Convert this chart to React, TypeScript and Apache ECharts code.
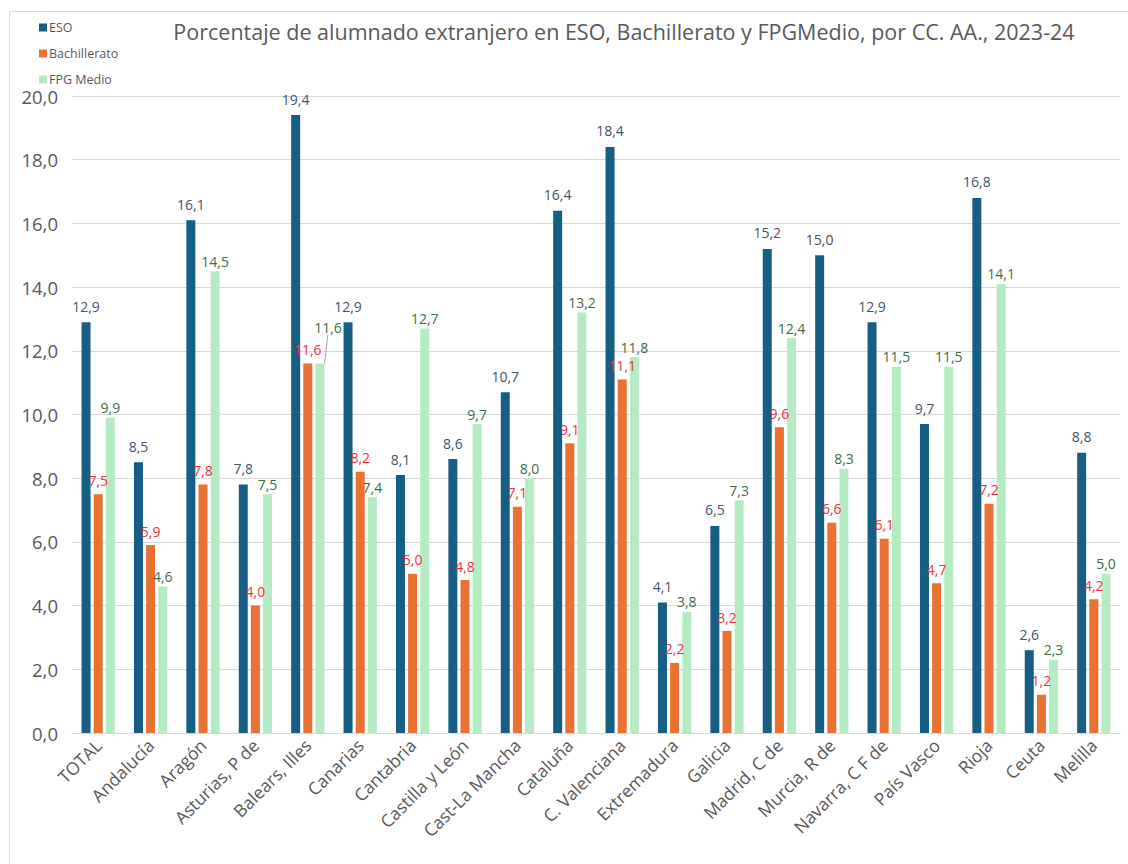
import React, { useEffect, useRef } from "react";
import * as echarts from "echarts";

const categories = [
  "TOTAL", "Andalucía", "Aragón", "Asturias, P de", "Balears, Illes", "Canarias",
  "Cantabria", "Castilla y León", "Cast-La Mancha", "Cataluña", "C. Valenciana",
  "Extremadura", "Galicia", "Madrid, C de", "Murcia, R de", "Navarra, C F de",
  "País Vasco", "Rioja", "Ceuta", "Melilla",
];
const esoValues = [12.9, 8.5, 16.1, 7.8, 19.4, 12.9, 8.1, 8.6, 10.7, 16.4, 18.4, 4.1, 6.5, 15.2, 15.0, 12.9, 9.7, 16.8, 2.6, 8.8];
const bachValues = [7.5, 5.9, 7.8, 4.0, 11.6, 8.2, 5.0, 4.8, 7.1, 9.1, 11.1, 2.2, 3.2, 9.6, 6.6, 6.1, 4.7, 7.2, 1.2, 4.2];
const fpgValues = [9.9, 4.6, 14.5, 7.5, 11.6, 7.4, 12.7, 9.7, 8.0, 13.2, 11.8, 3.8, 7.3, 12.4, 8.3, 11.5, 11.5, 14.1, 2.3, 5.0];
const yTicks = [0, 2, 4, 6, 8, 10, 12, 14, 16, 18, 20];

const fmt = (v: number) => v.toFixed(1).replace(".", ",");
const FONT = "'Open Sans', 'Noto Sans', sans-serif";

export default function App() {
  const ref = useRef<HTMLDivElement>(null);
  useEffect(() => {
    if (!ref.current) return;
    const chart = echarts.init(ref.current, null, { renderer: "svg" });
    const labelBase = { show: true, position: "top", fontSize: 14, fontFamily: FONT, formatter: (p: any) => fmt(p.value) };
    chart.setOption({
      animation: false,
      backgroundColor: "#ffffff",
      textStyle: { fontFamily: FONT },
      title: {
        text: "Porcentaje de alumnado extranjero en ESO, Bachillerato y FPGMedio, por CC. AA., 2023-24",
        left: 619,
        textAlign: "center",
        top: 15,
        textStyle: { fontSize: 21.5, fontWeight: "normal", color: "#595959", fontFamily: FONT },
      },
      legend: {
        orient: "vertical",
        left: 34,
        top: 16,
        itemWidth: 8,
        itemHeight: 8,
        itemGap: 13,
        icon: "rect",
        textStyle: { fontSize: 12.5, color: "#595959", fontFamily: FONT, padding: [0, 0, 0, -3] },
      },
      grid: { left: 72, right: 8, top: 96, bottom: 131, containLabel: false },
      xAxis: {
        type: "category",
        data: categories,
        axisLine: { lineStyle: { color: "#d9d9d9" } },
        axisTick: { show: false },
        axisLabel: { rotate: 45, interval: 0, color: "#595959", fontSize: 17.5, fontFamily: FONT, margin: 9 },
      },
      yAxis: {
        type: "value",
        min: yTicks[0],
        max: yTicks[yTicks.length - 1],
        interval: 2,
        axisLine: { show: false },
        axisTick: { show: false },
        splitLine: { lineStyle: { color: "#d9d9d9" } },
        axisLabel: { color: "#595959", fontSize: 18.5, fontFamily: FONT, formatter: (v: number) => fmt(v), margin: 14 },
      },
      series: [
        {
          name: "ESO",
          type: "bar",
          data: esoValues,
          barWidth: 9,
          barGap: "35%",
          itemStyle: { color: "#165e83" },
          label: { ...labelBase, color: "#44546a", distance: 9 },
        },
        {
          name: "Bachillerato",
          type: "bar",
          data: bachValues,
          barWidth: 9,
          barGap: "35%",
          itemStyle: { color: "#e97132" },
          label: { ...labelBase, color: "#ee3340", distance: 7 },
        },
        {
          name: "FPG Medio",
          type: "bar",
          data: fpgValues.map((v, i) =>
            i === 4 ? { value: v, labelLine: { show: true, lineStyle: { color: "#a6a6a6", width: 1 } } } : v
          ),
          barWidth: 9,
          barGap: "35%",
          itemStyle: { color: "#b5ebc3" },
          label: { ...labelBase, color: "#3e6e47", distance: 3 },
          labelLayout: (params: any) => (params.dataIndex === 4 ? { dx: 8, dy: -26 } : {}),
        },
      ],
      graphic: [
        {
          type: "rect",
          shape: { x: 9.5, y: 11.5, width: 1140, height: 860 },
          style: { fill: "none", stroke: "#d9d9d9", lineWidth: 1 },
          silent: true,
        },
      ],
    });
    return () => chart.dispose();
  }, []);
  return <div ref={ref} style={{ position: "fixed", left: 0, top: 0, width: 1128, height: 864 }} />;
}
